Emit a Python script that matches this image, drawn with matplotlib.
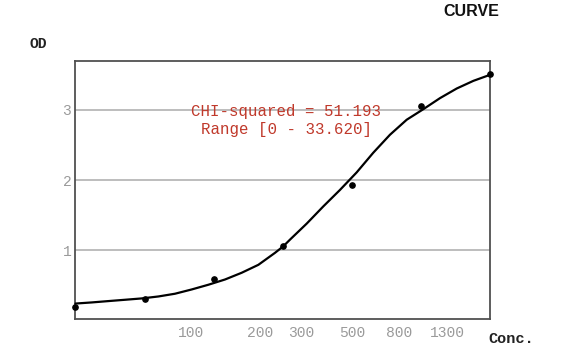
import matplotlib
matplotlib.use("Agg")
import matplotlib.pyplot as plt
from matplotlib.ticker import NullLocator, FixedLocator, FixedFormatter

# Standards (measured points)
conc = [31.25, 62.5, 125, 250, 500, 1000, 2000]
od = [0.19, 0.31, 0.59, 1.06, 1.93, 3.05, 3.51]

# Fitted curve
curve_conc = [31.25, 36.8, 43.4, 51.4, 60.7, 71.8, 84.8, 100.3, 118.5, 140.1,
              165.6, 195.7, 231.3, 251.5, 269, 318, 375.6, 444, 525, 620,
              733, 867, 1024, 1211, 1432, 1692, 2000]
curve_od = [0.24, 0.256, 0.275, 0.294, 0.313, 0.341, 0.38, 0.441, 0.508, 0.583,
            0.679, 0.792, 0.963, 1.057, 1.152, 1.38, 1.625, 1.86, 2.11, 2.39,
            2.646, 2.86, 3.01, 3.168, 3.305, 3.414, 3.50]

x_ticks = [100, 200, 300, 500, 800, 1300]
x_tick_labels = ["100", "200", "300", "500", "800", "1300"]
y_ticks = [1, 2, 3]
y_tick_labels = ["1", "2", "3"]

title = "CURVE"
y_label = "OD"
x_label = "Conc."
annot_lines = ["CHI-squared = 51.193", "Range [0 - 33.620]"]

mono = ["Liberation Mono", "DejaVu Sans Mono"]

fig = plt.figure(figsize=(5.78, 3.54), dpi=100)
ax = fig.add_axes([0.1306, 0.0989, 0.7172, 0.7274])

ax.set_xscale("log")
ax.set_xlim(31.25, 2000)
ax.set_ylim(0.02, 3.69)

for y in y_ticks:
    ax.axhline(y, color="#bdbdbd", lw=1.4, zorder=1)

ax.plot(curve_conc, curve_od, color="black", lw=1.6, zorder=3, clip_on=False,
        solid_capstyle="round", solid_joinstyle="round")
ax.plot(conc, od, "o", color="black", ms=3.8, zorder=4, clip_on=False)

ax.xaxis.set_major_locator(FixedLocator(x_ticks))
ax.xaxis.set_major_formatter(FixedFormatter(x_tick_labels))
ax.xaxis.set_minor_locator(NullLocator())
ax.yaxis.set_major_locator(FixedLocator(y_ticks))
ax.yaxis.set_major_formatter(FixedFormatter(y_tick_labels))
ax.yaxis.set_minor_locator(NullLocator())

ax.tick_params(axis="both", length=0, colors="#9a9a9a", labelsize=10.5)
ax.tick_params(axis="x", pad=5)
ax.tick_params(axis="y", pad=3)
for lbl in ax.get_xticklabels() + ax.get_yticklabels():
    lbl.set_family(mono)

for sp in ax.spines.values():
    sp.set_color("#505050")
    sp.set_linewidth(1.3)

ax.text(0.508, 0.807, annot_lines[0], transform=ax.transAxes, ha="center",
        va="center", color="#c0392b", fontsize=11.3, family=mono)
ax.text(0.508, 0.735, annot_lines[1], transform=ax.transAxes, ha="center",
        va="center", color="#c0392b", fontsize=11.3, family=mono)

fig.text(443 / 578, 1 - 11.7 / 354, title, ha="left", va="center",
         fontsize=11.5, fontweight="bold", family=["Liberation Sans", "DejaVu Sans"],
         color="#111111")
fig.text(30 / 578, 1 - 44 / 354, y_label, ha="left", va="center",
         fontsize=10.5, family=mono, color="#222222", fontweight="bold")
fig.text(488 / 578, 1 - 339 / 354, x_label, ha="left", va="center",
         fontsize=11, family=mono, color="#222222", fontweight="bold")

fig.savefig("out.png", dpi=100)
